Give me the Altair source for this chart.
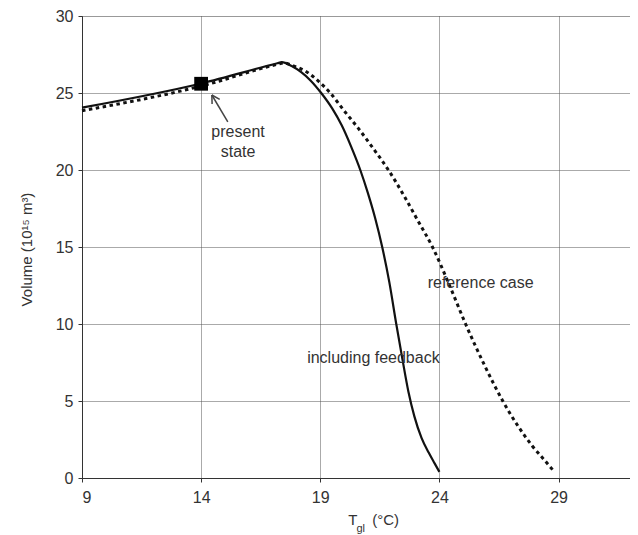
import altair as alt
import pandas as pd

# "including feedback" (solid)
fb_x = [9, 14, 17.2, 17.38, 17.8, 18.2, 18.6, 19.04, 19.5, 19.9, 20.3, 20.68, 21.0,
        21.3, 21.6, 21.9, 22.19, 22.45, 22.7, 22.95, 23.25, 23.55, 23.8, 24.0]
fb_y = [24.05, 25.62, 26.93, 27.0, 26.75, 26.35, 25.8, 25.0, 24.0, 22.9, 21.5, 20.0, 18.5,
        16.9, 15.0, 12.7, 10.0, 7.7, 5.6, 4.0, 2.6, 1.65, 0.95, 0.4]

# "reference case" (dashed)
ref_x = [9, 14, 17.25, 17.45, 17.9, 18.4, 18.9, 19.42, 20.0, 20.6, 21.2, 21.86, 22.5,
         23.1, 23.71, 24.4, 25.1, 25.9, 26.66, 27.3, 27.9, 28.4, 28.8]
ref_y = [23.85, 25.45, 26.88, 26.95, 26.75, 26.4, 25.8, 25.0, 23.85, 22.7, 21.45, 20.0,
         18.37, 16.7, 15.0, 12.6, 10.0, 7.3, 5.0, 3.37, 2.08, 1.18, 0.45]

# present state marker
state_x = [14]
state_y = [25.6]

x_ticks = [9, 14, 19, 24, 29]
y_ticks = [0, 5, 10, 15, 20, 25, 30]

# annotation labels
label_text = ["present", "state", "reference case", "including feedback"]
label_x = [15.55, 15.55, 25.73, 21.23]
label_y = [22.45, 21.15, 12.66, 7.79]

# arrow (tail -> tip, plus head strokes)
arrow_x = [15.12, 14.78, 14.45]
arrow_y = [23.12, 24.58, 24.87]
arrow_x2 = [14.45, 14.45, 14.46]
arrow_y2 = [24.87, 24.87, 24.29]

W, H = 548, 462
FONT = "Liberation Sans"

xs = alt.Scale(domain=[9, 32], nice=False, zero=False)
ys = alt.Scale(domain=[0, 30], nice=False, zero=False)

fb = pd.DataFrame({"x": fb_x, "y": fb_y, "o": range(len(fb_x))})
ref = pd.DataFrame({"x": ref_x, "y": ref_y, "o": range(len(ref_x))})

base_x = alt.X("x:Q", scale=xs,
               axis=alt.Axis(values=x_ticks, title=None, labelFontSize=16, labelPadding=7,
                             labelColor="#333", gridColor="#555", gridDash=[1, 1],
                             gridWidth=1, domainColor="#333", tickColor="#333", tickSize=4,
                             labelFont=FONT))
base_y = alt.Y("y:Q", scale=ys,
               axis=alt.Axis(values=y_ticks, title="Volume (10¹⁵ m³)", labelFontSize=16,
                             labelPadding=5, labelColor="#333", gridColor="#555",
                             gridDash=[1, 1], gridWidth=1, domainColor="#333",
                             tickColor="#333", tickSize=4, labelFont=FONT,
                             titleFont=FONT, titleFontSize=15, titleFontWeight="normal",
                             titleColor="#333", titleX=-56, titleY=233,
                             titleAlign="center", titleBaseline="middle"))

line_fb = alt.Chart(fb).mark_line(color="#111", strokeWidth=2.2, interpolate="monotone").encode(
    x=base_x, y=base_y, order="o:Q")
line_ref = alt.Chart(ref).mark_line(color="#111", strokeWidth=3, strokeDash=[3.5, 3.5],
                                    interpolate="monotone").encode(
    x="x:Q", y="y:Q", order="o:Q")

marker = alt.Chart(pd.DataFrame({"x": state_x, "y": state_y})).mark_point(
    shape="square", filled=True, color="black", size=190, opacity=1).encode(x="x:Q", y="y:Q")

arrow = alt.Chart(pd.DataFrame({"x": arrow_x, "y": arrow_y, "x2": arrow_x2, "y2": arrow_y2})).mark_rule(
    color="#444", strokeWidth=1.5).encode(x="x:Q", y="y:Q", x2="x2:Q", y2="y2:Q")

labels = alt.Chart(pd.DataFrame({"t": label_text, "x": label_x, "y": label_y})).mark_text(
    font=FONT, fontSize=16, color="#333", align="center", baseline="middle").encode(
    x="x:Q", y="y:Q", text="t:N")

# x-axis title "T_gl (°C)"
xt = alt.Chart(pd.DataFrame({"t": ["T", "(°C)"], "x": [20.17, 21.18]})).mark_text(
    font=FONT, fontSize=15, color="#333", align="left", baseline="middle").encode(
    x="x:Q", y=alt.value(504), text="t:N")
xsub = alt.Chart(pd.DataFrame({"t": ["gl"], "x": [20.52]})).mark_text(
    font=FONT, fontSize=11, color="#333", align="left", baseline="middle").encode(
    x="x:Q", y=alt.value(513), text="t:N")

chart = alt.layer(line_ref, line_fb, marker, arrow, labels, xt, xsub).properties(
    width=W, height=H,
    autosize=alt.AutoSizeParams(type="none"),
    padding={"left": 74, "top": 8, "right": 0, "bottom": 56},
).configure_view(stroke="#333", strokeWidth=1.5).configure(background="white")

chart.save("out.html", embed_options={"renderer": "svg", "actions": False})
